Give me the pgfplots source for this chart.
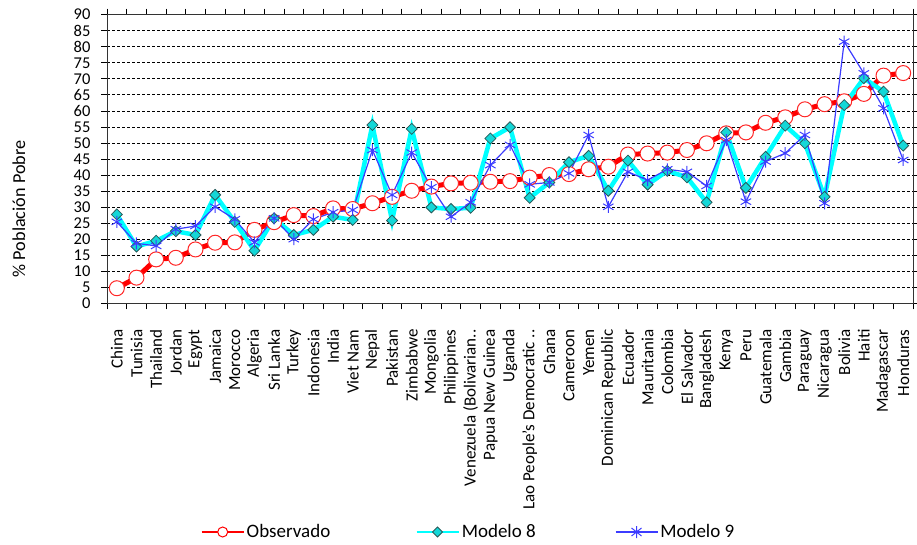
\documentclass[border=0pt]{standalone}
\usepackage{fontspec}
\setmainfont{Carlito}
\usepackage{pgfplots}
\usepackage{pgfplotstable}
\pgfplotsset{compat=1.18}
\definecolor{obsred}{RGB}{255,0,0}
\definecolor{mcyan}{RGB}{0,255,255}
\definecolor{mdia}{RGB}{20,215,215}
\definecolor{mdiaedge}{RGB}{40,90,90}
\definecolor{mblue}{RGB}{60,60,255}

\pgfplotstableread{
x obs m8 m9
0 4.7 27.7 25.4
1 8.0 17.7 18.7
2 13.7 19.5 17.9
3 14.2 22.5 23.1
4 16.8 21.3 24.1
5 18.9 33.8 30.1
6 19.0 25.4 26.2
7 22.9 16.4 19.0
8 25.3 26.5 26.5
9 27.5 21.3 20.0
10 27.2 22.9 26.2
11 29.6 27.0 28.4
12 29.4 26.0 29.1
13 31.2 55.6 47.8
14 33.2 25.8 33.8
15 35.1 54.4 47.0
16 36.4 29.9 36.2
17 37.4 29.4 27.0
18 37.6 29.8 31.5
19 37.9 51.4 43.1
20 38.1 54.9 49.4
21 39.2 32.9 37.1
22 40.0 37.7 37.7
23 40.3 44.0 40.5
24 41.8 46.0 52.5
25 42.6 35.1 30.1
26 46.4 44.5 41.0
27 46.7 37.0 38.4
28 47.0 41.3 41.8
29 47.8 39.3 41.0
30 49.9 31.5 36.6
31 53.0 53.3 50.9
32 53.3 36.0 31.7
33 56.3 45.7 44.2
34 58.0 55.4 46.8
35 60.5 49.9 52.5
36 62.1 33.2 31.2
37 63.0 61.8 81.6
38 65.3 70.2 71.7
39 71.0 66.0 60.8
40 71.8 49.2 44.7
}\datatable

\begin{document}
\begin{tikzpicture}
\begin{axis}[
  at={(107pt,240.7pt)}, anchor=south west,
  scale only axis, width=806pt, height=288.6pt,
  xmin=-0.5, xmax=40.5, ymin=0, ymax=90,
  ytick={0,5,...,90},
  xtick={0,...,40},
  xticklabels={China,Tunisia,Thailand,Jordan,Egypt,Jamaica,Morocco,Algeria,Sri Lanka,Turkey,Indonesia,India,Viet Nam,Nepal,Pakistan,Zimbabwe,Mongolia,Philippines,{Venezuela (Bolivarian..},Papua New Guinea,Uganda,{Lao People's Democratic ..},Ghana,Cameroon,Yemen,Dominican Republic,Ecuador,Mauritania,Colombia,El Salvador,Bangladesh,Kenya,Peru,Guatemala,Gambia,Paraguay,Nicaragua,Bolivia,Haiti,Madagascar,Honduras},
  minor xtick={-0.5,0.5,...,40.5},
  major x tick style={draw=none},
  tick align=outside,
  major tick length=6pt, minor tick length=6pt,
  tick style={black, line width=0.8pt},
  axis line style={black!80, line width=1pt},
  ymajorgrids=true,
  grid style={black, line width=0.8pt, dash pattern=on 3pt off 2pt},
  /pgf/number format/assume math mode=true,
  yticklabel style={font=\fontsize{16.5}{19}\selectfont},
  xticklabel style={font=\fontsize{17}{20}\selectfont, rotate=90, anchor=east, inner sep=1pt},
  xticklabel shift=19pt,
  yticklabel shift=7pt,
  ylabel={\% Población Pobre},
  every axis y label/.style={at={([xshift=-88pt]axis description cs:0,0.327)}, rotate=90, anchor=center, font=\fontsize{18.2}{21}\selectfont},
  legend columns=3,
  legend style={draw=none, fill=none, font=\fontsize{19}{22}\selectfont,
    at={([yshift=-228.7pt]axis description cs:0.4485,0)}, anchor=center,
    /tikz/column 2/.style={column sep=83pt},
    /tikz/column 4/.style={column sep=77pt}},
]
\addplot[obsred, line width=5pt, mark=*, mark size=7.5pt,
  mark options={fill=white, draw=obsred!85, line width=1pt},
  legend image code/.code={\draw[obsred, line width=2pt] (0pt,0pt) -- (42pt,0pt);
    \draw[obsred, fill=white, line width=1pt] (21pt,0pt) circle (5pt);}]
  table[x=x, y=obs] {\datatable};
\addlegendentry{Observado}
\addplot[mcyan, line width=4.5pt, mark=diamond*, mark size=5.5pt,
  mark options={fill=mdia, draw=mdiaedge, line width=0.8pt, xscale=1.33},
  legend image code/.code={\draw[mcyan, line width=2.5pt] (0pt,0pt) -- (42pt,0pt);
    \draw[draw=mdiaedge, fill=mdia, line width=0.8pt] (21pt,5pt) -- (26pt,0pt) -- (21pt,-5pt) -- (16pt,0pt) -- cycle;}]
  table[x=x, y=m8] {\datatable};
\addlegendentry{Modelo 8}
\addplot[mblue, line width=1.2pt, mark=asterisk, mark size=6pt,
  mark options={line width=1pt},
  legend image code/.code={\draw[mblue, line width=1.5pt] (0pt,0pt) -- (42pt,0pt);
    \draw[mblue, line width=1pt] (21pt,-6pt) -- (21pt,6pt) (16pt,-4pt) -- (26pt,4pt) (16pt,4pt) -- (26pt,-4pt);}]
  table[x=x, y=m9] {\datatable};
\addlegendentry{Modelo 9}
\end{axis}
\pgfresetboundingbox
\useasboundingbox (0pt,0pt) rectangle (917pt,544pt);
\end{tikzpicture}
\end{document}
